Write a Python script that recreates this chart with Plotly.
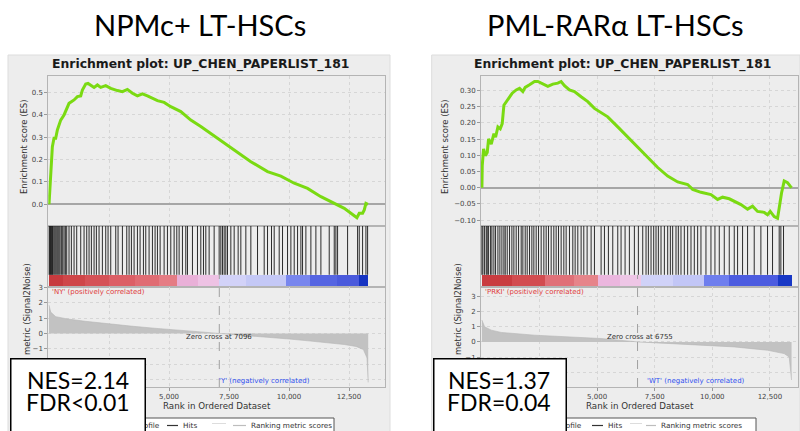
import plotly.graph_objects as go

# ---------------- data ----------------
titles = ["NPMc+ LT-HSCs", "PML-RARα LT-HSCs"]
plot_title = "Enrichment plot: UP_CHEN_PAPERLIST_181"
pos_labels = ["'NY' (positively correlated)", "'PRKI' (positively correlated)"]
neg_labels = ["'Y' (negatively correlated)", "'WT' (negatively correlated)"]
legend_labels = ["Enrichment profile", "Hits", "Ranking metric scores"]
zero_cross = [7096, 6755]
nes_text = ["NES=2.14", "NES=1.37"]
fdr_text = ["FDR&lt;0.01", "FDR=0.04"]

# Left: NPMc+
es1_rank = [0, 42, 70, 111, 139, 208, 278, 348, 417, 487, 626, 765, 834, 931, 1043, 1182, 1321, 1390, 1529, 1626,
            1738, 1877, 2016, 2155, 2363, 2572, 2850, 3058, 3267, 3475, 3684, 3892, 4101, 4518, 4796, 5074, 5491,
            5908, 6325, 7020, 7715, 8410, 9105, 9661, 10217, 10773, 11329, 11885, 12302, 12719, 12830, 12927,
            13066, 13136, 13205, 13290]
es1_val = [0, 0.064, 0.138, 0.198, 0.257, 0.295, 0.295, 0.332, 0.354, 0.376, 0.399, 0.436, 0.451, 0.458, 0.466,
           0.481, 0.484, 0.51, 0.537, 0.54, 0.533, 0.522, 0.533, 0.522, 0.530, 0.518, 0.508, 0.503, 0.513, 0.496,
           0.484, 0.493, 0.484, 0.463, 0.455, 0.436, 0.414, 0.376, 0.347, 0.295, 0.243, 0.19, 0.146, 0.126, 0.094,
           0.071, 0.034, 0.004, -0.018, -0.051, -0.06, -0.04, -0.04, -0.025, 0.004, 0.0]
hits1 = [0, 28, 56, 83, 111, 139, 167, 209, 250, 292, 334, 375, 417, 459, 514, 570, 626, 681, 737, 834, 931, 1043,
         1154, 1321, 1460, 1571, 1668, 1765, 1877, 1974, 2085, 2224, 2363, 2460, 2572, 2780, 2877, 3058, 3239, 3336,
         3433, 3545, 3684, 3795, 3934, 4031, 4170, 4309, 4420, 4518, 4629, 4796, 4935, 5074, 5213, 5324, 5421, 5560,
         5699, 5769, 5977, 6186, 6325, 6436, 6533, 6672, 6881, 7089, 7159, 7228, 7298, 7367, 7437, 7576, 7715, 7881,
         7993, 8201, 8410, 8688, 8966, 9105, 9271, 9383, 9591, 9730, 9939, 10078, 10217, 10356, 10495, 10564, 10703,
         10912, 11120, 11329, 11676, 11885, 11954, 12024, 12441, 12858, 12927, 13066, 13205, 13275]
metric1_rank = [0, 70, 280, 765, 1500, 2500, 3500, 4500, 5350, 6200, 7096, 8000, 9000, 10000, 10800, 11600, 12300,
                12800, 13100, 13250, 13300]
metric1_val = [1.85, 1.4, 1.1, 0.95, 0.8, 0.62, 0.47, 0.33, 0.24, 0.12, 0, -0.1, -0.22, -0.36, -0.48, -0.6, -0.72,
               -0.85, -1.05, -1.6, -3.2]
band1_edges = [0, 600, 1500, 2500, 3600, 4600, 5350, 6200, 7096, 8200, 9870, 10900, 12000, 12930, 13300]

# Right: PML-RARa
es2_rank = [0, 14, 72, 145, 231, 289, 405, 520, 592, 694, 795, 881, 954, 1127, 1315, 1488, 1633, 1777, 1879, 2066,
            2283, 2428, 2644, 2861, 3078, 3295, 3439, 3584, 3800, 4017, 4306, 4595, 4884, 5173, 5462, 5896, 6329,
            6763, 7196, 7630, 8063, 8497, 8930, 9147, 9508, 9942, 10231, 10447, 10736, 10953, 11242, 11531, 11748,
            11965, 12254, 12398, 12514, 12687, 12832, 12904, 13005, 13121, 13265, 13381, 13440]
es2_val = [0, 0.068, 0.120, 0.099, 0.109, 0.151, 0.135, 0.167, 0.156, 0.188, 0.182, 0.198, 0.255, 0.271, 0.292,
           0.302, 0.307, 0.297, 0.310, 0.318, 0.328, 0.328, 0.320, 0.313, 0.320, 0.323, 0.328, 0.315, 0.302, 0.297,
           0.281, 0.266, 0.245, 0.232, 0.219, 0.188, 0.156, 0.125, 0.094, 0.0625, 0.036, 0.018, 0.010, -0.005,
           -0.014, -0.021, -0.036, -0.029, -0.034, -0.042, -0.052, -0.066, -0.057, -0.073, -0.076, -0.083, -0.073,
           -0.089, -0.094, -0.0625, -0.016, 0.021, 0.016, 0.005, 0.0]
hits2 = [0, 43, 116, 188, 231, 289, 376, 434, 520, 592, 694, 780, 867, 954, 1012, 1098, 1199, 1301, 1387, 1488,
         1590, 1705, 1777, 1879, 1965, 2066, 2168, 2254, 2355, 2457, 2572, 2688, 2789, 2890, 3006, 3121, 3222, 3324,
         3439, 3555, 3656, 3800, 3945, 4046, 4162, 4306, 4422, 4566, 4740, 4884, 5173, 5318, 5491, 5679, 5896, 6040,
         6214, 6401, 6618, 6792, 6980, 7124, 7225, 7341, 7456, 7557, 7659, 7774, 7919, 8063, 8179, 8280, 8425, 8526,
         8641, 8786, 8930, 9075, 9219, 9364, 9508, 9725, 9942, 10115, 10303, 10520, 10736, 10953, 11098, 11314,
         11531, 11820, 12109, 12398, 12615, 12904, 12976, 13092]
metric2_rank = [0, 43, 116, 405, 838, 2283, 3728, 5173, 6755, 8063, 9508, 10953, 12398, 13121, 13337, 13440]
metric2_val = [1.43, 1.2, 0.99, 0.77, 0.62, 0.44, 0.33, 0.22, 0, -0.11, -0.22, -0.33, -0.55, -0.77, -0.99, -2.5]
band2_edges = [0, 1300, 2717, 4000, 5029, 6000, 6907, 8300, 9653, 10736, 12832, 13440]

# ---------------- styling / layout helpers ----------------
W, H = 800, 431
def fx(p):
    return p / W
def fy(p):
    return 1 - p / H

band1_colors = ['#c73a3e', '#cf4649', '#d55257', '#dc5f66', '#e06c73', '#e57c84', '#e9b0d8', '#eec2e4',
                '#d2d2f8', '#c4c8f6', '#7886ee', '#5565e2', '#4a5adc', '#1634c2']
band2_colors = ['#c93c40', '#d24c50', '#e07078', '#e6848a', '#ebb6de', '#eec6e6', '#d0d2f8', '#c2c6f6',
                '#6e7eee', '#4c5ce0', '#1838c6']

SMALL = "DejaVu Sans"
GRID = '#d6d6d6'
BORDER = '#b4b4b4'
TICKC = '#444444'

panels = [
    dict(es_rank=es1_rank, es_val=es1_val, hits=hits1, m_rank=metric1_rank, m_val=metric1_val,
         edges=band1_edges, colors=band1_colors, xdom=(48.3, 385), xr=[-30, 14000],
         esr=[-0.097, 0.573], esdt=0.1, esfmt='.1f', mr=[-3.5, 3.04],
         bg=(8, 390), title_x=200, ptitle_x=200, es_lab_x=24, m_lab_x=27,
         pos_x=50, zc_lab_x=219, neg_x=217, nes=(10, 145),
         leg=dict(box=(60, 334), enr_end=162, hits_line=(167, 178), hits_x=181, light=(212, 226),
                  grey=(233, 246), rank_x=249)),
    dict(es_rank=es2_rank, es_val=es2_val, hits=hits2, m_rank=metric2_rank, m_val=metric2_val,
         edges=band2_edges, colors=band2_colors, xdom=(481, 798), xr=[-40, 13720],
         esr=[-0.118, 0.345], esdt=0.05, esfmt='.2f', mr=[-2.96, 3.6],
         bg=(431.7, 800), title_x=615, ptitle_x=622, es_lab_x=445, m_lab_x=458,
         pos_x=483, zc_lab_x=640, neg_x=645, nes=(433, 565.7),
         leg=dict(box=(480, 756), enr_end=584, hits_line=(592, 603), hits_x=606, light=(630, 642),
                  grey=(646, 656), rank_x=659)),
]

fig = go.Figure()
layout = dict(width=W, height=H, margin=dict(l=0, r=0, t=0, b=0, autoexpand=False), paper_bgcolor='white',
              plot_bgcolor='white', showlegend=False, bargap=0)
shapes = []
annotations = []


def ann(text, x, y, size, color='#333', family=SMALL, xanchor='center', yanchor='middle', **kw):
    d = dict(text=text, x=fx(x), y=fy(y), xref='paper', yref='paper', showarrow=False,
             xanchor=xanchor, yanchor=yanchor, font=dict(family=family, size=size, color=color))
    d.update(kw)
    annotations.append(d)


def hline(x0, x1, y, color, width=1.2):
    shapes.append(dict(type='line', xref='paper', yref='paper', x0=fx(x0), x1=fx(x1), y0=fy(y), y1=fy(y),
                       line=dict(color=color, width=width), layer='above'))


def tickfont():
    return dict(family=SMALL, size=7, color=TICKC)


for i, p in enumerate(panels):
    a = i * 3 + 1  # ES, hits+colorbar, metric
    names = [str(a) if a > 1 else '', str(a + 1), str(a + 2)]
    xd = [fx(p['xdom'][0]), fx(p['xdom'][1])]

    # grey background
    shapes.append(dict(type='rect', xref='paper', yref='paper', x0=fx(p['bg'][0]), x1=fx(p['bg'][1]),
                       y0=fy(440), y1=fy(55), fillcolor='#ededed', line=dict(color='#dddddd', width=1),
                       layer='below'))

    # ES curve
    fig.add_trace(go.Scatter(x=p['es_rank'], y=p['es_val'], mode='lines',
                             line=dict(color='#7ada12', width=3),
                             xaxis='x' + names[0], yaxis='y' + names[0]))
    # hits
    hx, hy = [], []
    for h in p['hits']:
        hx += [h, h, None]
        hy += [0.2, 1, None]
    fig.add_trace(go.Scatter(x=hx, y=hy, mode='lines', line=dict(color='rgba(10,10,10,0.85)', width=1),
                             xaxis='x' + names[1], yaxis='y' + names[1]))
    # colour bar
    e = p['edges']
    fig.add_trace(go.Bar(orientation='h', y=[0.1] * (len(e) - 1), base=e[:-1],
                         x=[e[k + 1] - e[k] for k in range(len(e) - 1)], width=0.2,
                         marker=dict(color=p['colors'], line=dict(width=0)),
                         xaxis='x' + names[1], yaxis='y' + names[1]))
    # ranking metric
    fig.add_trace(go.Scatter(x=p['m_rank'], y=p['m_val'], mode='lines', fill='tozeroy',
                             fillcolor='#c2c2c2', line=dict(color='#b5b5b5', width=0.6),
                             xaxis='x' + names[2], yaxis='y' + names[2]))

    common_x = dict(domain=xd, range=p['xr'], showline=True, mirror=True, linecolor=BORDER, linewidth=1,
                    zeroline=False, dtick=2500, tick0=0, automargin=False)
    layout['xaxis' + names[0]] = dict(common_x, showticklabels=False, showgrid=True, gridcolor=GRID,
                                      griddash='dot', anchor='y' + names[0])
    layout['yaxis' + names[0]] = dict(domain=[fy(226), fy(76)], range=p['esr'], dtick=p['esdt'], tick0=0,
                                      tickformat=p['esfmt'], ticks='outside', ticklen=3, tickcolor='#999',
                                      tickfont=tickfont(), showgrid=True, gridcolor=GRID, griddash='dot',
                                      zeroline=True, zerolinecolor='#a6a6a6', zerolinewidth=2,
                                      showline=True, mirror=True, linecolor=BORDER, automargin=False,
                                      anchor='x' + names[0])
    layout['xaxis' + names[1]] = dict(common_x, showticklabels=False, showgrid=False, anchor='y' + names[1])
    layout['yaxis' + names[1]] = dict(domain=[fy(287), fy(226)], range=[0, 1], showticklabels=False,
                                      showgrid=False, zeroline=False, showline=True, mirror=True,
                                      linecolor=BORDER, automargin=False, anchor='x' + names[1])
    layout['xaxis' + names[2]] = dict(common_x, showticklabels=True, tickformat=',d', ticks='outside',
                                      ticklen=3, tickcolor='#999', tickfont=tickfont(), showgrid=True,
                                      gridcolor=GRID, griddash='dot', anchor='y' + names[2])
    layout['yaxis' + names[2]] = dict(domain=[fy(387), fy(287)], range=p['mr'], dtick=1, tick0=0,
                                      ticks='outside', ticklen=3, tickcolor='#999', tickfont=tickfont(),
                                      showgrid=True, gridcolor=GRID, griddash='dot', zeroline=False,
                                      showline=True, mirror=True, linecolor=BORDER, automargin=False,
                                      anchor='x' + names[2])

    # zero-cross dashed line
    shapes.append(dict(type='line', xref='x' + names[2], yref='paper', x0=zero_cross[i], x1=zero_cross[i],
                       y0=fy(387), y1=fy(275), line=dict(color='#a0a0a0', width=1, dash='dash'),
                       layer='above'))

    # texts
    ann(titles[i], p['title_x'], 25, 29, color='black', family='Lato')
    ann('<b>' + plot_title + '</b>', p['ptitle_x'], 64, 12.4, color='#1a1a1a')
    ann('Enrichment score (ES)', p['es_lab_x'], 147, 8.5, textangle=-90)
    ann('Ranking metric (Signal2Noise)', p['m_lab_x'], 328, 8.5, textangle=-90)
    ann('Rank in Ordered Dataset', (p['xdom'][0] + p['xdom'][1]) / 2, 406, 8.7)
    ann(pos_labels[i], p['pos_x'], 292, 7, color='#e03c3c', xanchor='left')
    ann('Zero cross at %d' % zero_cross[i], p['zc_lab_x'], 337, 7)
    ann(neg_labels[i], p['neg_x'], 381, 7, color='#3050f0', xanchor='left')

    # legend box (partly hidden by NES box)
    lg = p['leg']
    shapes.append(dict(type='rect', xref='paper', yref='paper', x0=fx(lg['box'][0]), x1=fx(lg['box'][1]),
                       y0=fy(445), y1=fy(418), fillcolor='white', line=dict(color='#555', width=1),
                       layer='above'))
    ly = 425.5
    ann(legend_labels[0], lg['enr_end'], ly, 7.3, xanchor='right')
    hline(lg['enr_end'] - 82, lg['enr_end'] - 70, ly, '#7ada12')
    hline(lg['hits_line'][0], lg['hits_line'][1], ly, '#333333')
    ann(legend_labels[1], lg['hits_x'], ly, 7.3, xanchor='left')
    hline(lg['light'][0], lg['light'][1], ly - 2, '#dddddd', 1)
    hline(lg['grey'][0], lg['grey'][1], ly, '#bdbdbd')
    ann(legend_labels[2], lg['rank_x'], ly, 7.3, xanchor='left')

    # NES box
    n0, n1 = p['nes']
    ann(' ', n0, 357.7, 10, xanchor='left', yanchor='top', width=n1 - n0 - 2, height=110, borderpad=0,
        bgcolor='white', bordercolor='black', borderwidth=1.5)
    ann(nes_text[i], (n0 + n1) / 2, 379.5, 23, color='black', family='Lato')
    ann(fdr_text[i], (n0 + n1) / 2, 402, 23, color='black', family='Lato')

layout['shapes'] = shapes
layout['annotations'] = annotations
fig.update_layout(**layout)
fig.write_html("out.html")
